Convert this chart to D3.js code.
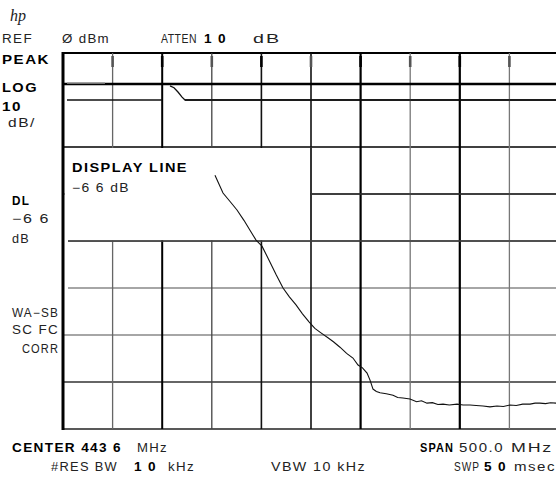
<!DOCTYPE html>
<html><head><meta charset="utf-8">
<script src="https://cdn.jsdelivr.net/npm/d3@7"></script>
<style>body{margin:0;background:#fff}svg{display:block}</style>
</head><body><svg id="c" width="556" height="477"></svg>
<script>
// ---- data ----
const centerMHz = 443.6, spanMHz = 500;
const refLevel = 0, dbPerDiv = 10, nDivY = 8, nDivX = 10;
const displayLineDb = -6.6;
// main trace (MHz, dBm)
const traceFreq = [346.8,354.9,362.0,369.0,376.0,382.1,388.2,394.2,402.3,408.5,415.4,421.8,428.5,435.0,441.6,447.5,454.0,460.7,466.5,472.8,479.5,485.9,491.0,495.5,500.1,503.1,506.1,509.5,513.2,519.5,526.3,531.0,536.3,543.4,550.0,555.0,560.5,566.0,571.5,576.7,583.0,590.8,597.0,603.9,610.0,617.0,624.0,631.1,637.5,644.2,650.5,657.0,664.4,669.5,674.4,680.0,685.0,690.6,693.6];
const traceDb   = [-26.0,-29.8,-31.6,-33.4,-35.6,-37.7,-39.8,-41.1,-44.5,-47.2,-50.0,-51.9,-53.6,-55.5,-57.2,-58.6,-59.6,-60.6,-61.5,-62.6,-63.9,-64.9,-66.4,-67.0,-68.1,-69.6,-71.5,-72.0,-72.3,-72.5,-72.8,-73.3,-73.4,-73.6,-74.2,-74.0,-74.5,-74.4,-74.8,-74.7,-74.9,-74.7,-74.9,-74.9,-75.0,-75.1,-75.3,-75.1,-75.2,-74.9,-75.0,-74.7,-74.7,-74.5,-74.5,-74.6,-74.4,-74.5,-74.5];
// upper trace pieces
const upperFreq = [197.6,293.4];
const upperDb = [-10,-10];
const stepFreq = [301.5,305.5,309.5,313.6,316.6,693.6];
const stepDb = [-7.0,-7.4,-8.3,-9.4,-10.0,-10.0];
const ghostFreq = [197.6,235.9];
const ghostDb = [-6.4,-6.4];

const svg = d3.select("#c");
const x = d3.scaleLinear().domain([centerMHz-spanMHz/2, centerMHz+spanMHz/2]).range([63,559]);
const y = d3.scaleLinear().domain([refLevel, refLevel-dbPerDiv*nDivY]).range([53,429]);

const xTicks = d3.range(nDivX+1).map(i => centerMHz-spanMHz/2 + i*spanMHz/nDivX);
const yTicks = d3.range(nDivY+1).map(j => refLevel - j*dbPerDiv);

const vStyle = [
  {c:"#000",w:3},{c:"#666",w:1.3},{c:"#000",w:2},{c:"#444",w:1.3},{c:"#111",w:1.6},
  {c:"#111",w:1.6},{c:"#000",w:2.2},{c:"#777",w:1.3},{c:"#000",w:2.2},{c:"#777",w:1.3},{c:"#000",w:2}
];
const hStyle = [
  {c:"#000",w:2,x0:63},{c:"#000",w:1.5,x0:185},{c:"#000",w:1.5,x0:63},{c:"#333",w:1.3,x0:63},
  {c:"#444",w:1.6,x0:68},{c:"#888",w:1.3,x0:68},{c:"#888",w:1.3,x0:63},{c:"#333",w:1.3,x0:63},{c:"#222",w:1.6,x0:63}
];

const g = svg.append("g");
yTicks.forEach((d,j) => {
  g.append("line").attr("x1",hStyle[j].x0).attr("x2",559).attr("y1",y(d)).attr("y2",y(d))
   .attr("stroke",hStyle[j].c).attr("stroke-width",hStyle[j].w);
});
xTicks.forEach((d,i) => {
  if(i===0) return;
  g.append("line").attr("x1",x(d)).attr("x2",x(d)).attr("y1",y(0)).attr("y2",y(-80))
   .attr("stroke",vStyle[i].c).attr("stroke-width",vStyle[i].w);
  g.append("line").attr("x1",x(d)).attr("x2",x(d)).attr("y1",y(0)+3).attr("y2",y(0)+14)
   .attr("stroke",i%2===0?"#000":"#555").attr("stroke-width",2.6);
});
g.append("line").attr("x1",63).attr("x2",559).attr("y1",y(displayLineDb)).attr("y2",y(displayLineDb))
 .attr("stroke","#000").attr("stroke-width",2.6);

// white annotation box hiding grid
g.append("rect").attr("x",x(xTicks[0])+1.5).attr("y",y(-20)+1).attr("width",x(xTicks[5])-x(xTicks[0])-2.5)
 .attr("height",y(-40)-y(-20)-1.8).attr("fill","#fff");
g.append("line").attr("x1",x(xTicks[5])).attr("x2",x(xTicks[5])).attr("y1",y(-20)).attr("y2",y(-40))
 .attr("stroke","#333").attr("stroke-width",1.6);
g.append("line").attr("x1",x(xTicks[5])).attr("x2",559).attr("y1",y(-30)).attr("y2",y(-30))
 .attr("stroke","#333").attr("stroke-width",1.3);
g.append("line").attr("x1",68).attr("x2",559).attr("y1",y(-40)).attr("y2",y(-40))
 .attr("stroke","#444").attr("stroke-width",1.6);

g.append("line").attr("x1",63).attr("x2",63).attr("y1",y(0)-1).attr("y2",y(-80)+1)
 .attr("stroke","#000").attr("stroke-width",3);

const line = d3.line().x(d=>x(d[0])).y(d=>y(d[1]));
g.append("path").datum(ghostFreq.map((f,i)=>[f,ghostDb[i]])).attr("d",line)
 .attr("fill","none").attr("stroke","#999").attr("stroke-width",1.5);
g.append("path").datum(upperFreq.map((f,i)=>[f,upperDb[i]])).attr("d",line)
 .attr("fill","none").attr("stroke","#111").attr("stroke-width",1.3);
g.append("path").datum(stepFreq.map((f,i)=>[f,stepDb[i]])).attr("d",line)
 .attr("fill","none").attr("stroke","#111").attr("stroke-width",1.3);
g.append("path").datum(traceFreq.map((f,i)=>[f,traceDb[i]])).attr("d",line)
 .attr("fill","none").attr("stroke","#111").attr("stroke-width",1.1);

// ---- text ----
const F = "'Liberation Sans', Arial, sans-serif";
function t(str,xx,yy,len,opt={}){
  const el = svg.append("text").attr("x",xx).attr("y",yy).text(str)
   .attr("font-family",opt.ff||F).attr("font-size",opt.fs||12)
   .attr("font-weight",opt.b?"bold":"normal").attr("font-style",opt.it?"italic":"normal")
   .attr("letter-spacing",opt.ls!=null?opt.ls:1.2)
   .attr("fill",opt.c||(opt.b?"#000":"#222"));
  if(len) el.attr("textLength",len).attr("lengthAdjust","spacingAndGlyphs");
  return el;
}
t("hp",10,21,null,{ff:"'Liberation Serif', serif",fs:16,it:true,ls:0});
t("REF",2,43,31);
t("Ø dBm",62,43,48);
t("ATTEN",161,43,36,{ls:0.6});
t("1 0",204,43,23,{b:true});
t("dB",253,43,28);
t("PEAK",2,64,48,{b:true});
t("LOG",2,92,36,{b:true});
t("10",2,111,20,{b:true});
t("dB/",8,127,28);
t("DISPLAY LINE",72,172,116,{b:true});
t("−6 6 dB",72,192,58);
t("DL",12,205,18,{b:true});
t("−6 6",12,223,38);
t("dB",12,243,18);
t("WA−SB",12,317,47);
t("SC FC",12,334,47);
t("CORR",22,353,37);
t("CENTER 443 6",12,452,110,{b:true});
t("MHz",137,452,31);
t("#RES BW",51,471,67);
t("1 0",134,471,23,{b:true});
t("kHz",168,471,27);
t("VBW 10 kHz",271,471,95);
t("SPAN",420,452,34,{b:true});
t("500.0",459,452,45);
t("MHz",511,452,42);
t("SWP",454,471,26);
t("5 0",484,471,23,{b:true});
t("msec",514,471,42);
</script></body></html>
